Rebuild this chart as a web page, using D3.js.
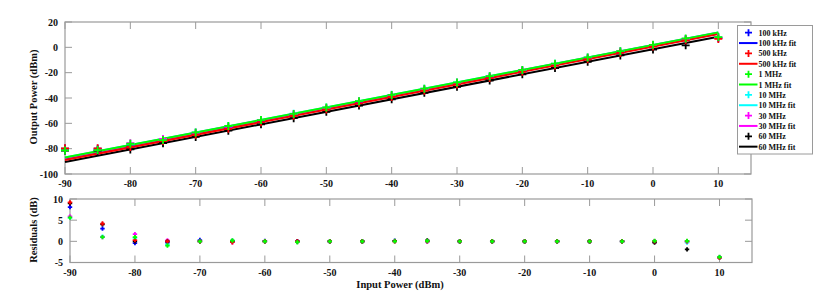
<!DOCTYPE html>
<html><head><meta charset="utf-8">
<script src="https://cdn.jsdelivr.net/npm/d3@7"></script>
<style>
body{margin:0;background:#fff;}
svg text{font-family:"Liberation Serif","Times New Roman",serif;font-weight:bold;fill:#111;}
</style></head>
<body><svg id="c" width="830" height="295"></svg>
<script>
// ---------- data ----------
const inputPower = [-90,-85,-80,-75,-70,-65,-60,-55,-50,-45,-40,-35,-30,-25,-20,-15,-10,-5,0,5,10];
const seriesNames = ["100 kHz","500 kHz","1 MHz","10 MHz","30 MHz","60 MHz"];
const seriesColors = ["#0000ff","#ff0000","#00ff00","#00ffff","#ff00ff","#000000"];
// measured output power (dBm)
const out100k = [-79.9,-80.0,-78.5,-73.5,-67.9,-63.2,-58.2,-53.4,-48.4,-43.5,-38.4,-33.6,-28.6,-23.7,-18.7,-13.8,-8.8,-3.9,1.0,6.1,7.2];
const out500k = [-79.7,-79.7,-78.7,-74.0,-69.0,-64.3,-59.1,-54.1,-49.1,-44.2,-39.2,-34.2,-29.3,-24.3,-19.3,-14.4,-9.4,-4.4,0.6,5.5,6.6];
const out1M   = [-81.4,-81.1,-76.1,-73.2,-67.2,-62.1,-57.4,-52.6,-47.5,-42.5,-37.6,-32.6,-27.7,-22.8,-17.8,-12.9,-8.0,-3.0,2.0,7.0,8.1];
const out10M  = [-81.4,-81.0,-76.3,-73.0,-67.2,-62.2,-57.4,-52.4,-47.5,-42.5,-37.5,-32.7,-27.7,-22.8,-17.8,-12.9,-8.0,-3.0,1.9,6.6,7.9];
const out30M  = [-81.4,-81.4,-75.7,-72.3,-67.5,-62.8,-57.7,-52.7,-47.8,-42.8,-37.9,-33.0,-28.0,-23.1,-18.1,-13.2,-8.3,-3.3,1.6,6.6,7.7];
const out60M  = [-81.5,-81.6,-80.6,-75.7,-70.7,-65.8,-60.8,-55.9,-50.9,-46.0,-41.0,-35.9,-31.2,-26.2,-21.3,-16.3,-11.4,-6.4,-1.8,1.6];
// linear fit end points (at -90 and 10 dBm input)
const fitX = [-90, 10];
const fit100k = [-88.0, 11.0];
const fit500k = [-88.9, 10.5];
const fit1M   = [-87.0, 11.8];
const fit10M  = [-87.0, 11.8];
const fit30M  = [-87.3, 11.5];
const fit60M  = [-90.5, 8.4];
// residuals (dB)
const res100k = [8.1,3.0,-0.4,-0.3,0.3,0.1,0.1,0.0,0.0,0.0,0.1,0.0,0.0,0.0,0.0,0.0,0.0,0.0,-0.1,0.0,-3.8];
const res500k = [9.2,4.2,0.3,0.0,0.0,-0.2,0.0,0.0,0.0,0.0,0.0,0.0,0.0,0.0,0.0,0.0,0.0,0.0,0.0,0.0,-3.9];
const res1M   = [5.6,1.0,1.0,-1.0,0.0,0.2,0.0,-0.2,0.0,0.0,0.0,0.1,0.0,0.0,0.0,0.0,0.0,0.0,0.1,0.1,-3.7];
const res10M  = [5.6,1.1,0.8,-0.8,0.0,0.1,0.0,0.0,0.0,0.0,0.1,0.0,0.0,0.0,0.0,0.0,0.0,0.0,0.0,-0.3,-3.9];
const res30M  = [5.9,1.0,1.7,0.2,0.0,-0.2,0.0,0.0,0.0,0.0,0.0,0.0,0.0,0.0,0.0,0.0,0.0,0.0,0.0,0.0,-3.8];
const res60M  = [9.0,4.0,0.0,0.0,0.0,0.0,0.0,0.0,0.0,0.0,0.1,0.2,0.0,0.0,0.0,0.0,0.0,0.0,-0.3,-1.9];
const xTicks = [-90,-80,-70,-60,-50,-40,-30,-20,-10,0,10];
const yTicksTop = [20,0,-20,-40,-60,-80,-100];
const yTicksBot = [10,5,0,-5];

const outs = [out100k,out500k,out1M,out10M,out30M,out60M];
const fits = [fit100k,fit500k,fit1M,fit10M,fit30M,fit60M];
const ress = [res100k,res500k,res1M,res10M,res30M,res60M];
const drawOrder = [0,3,4,5,1,2];

const svg = d3.select("#c");
const axisColor = "#9a9a9a";
const tickLen = 7;

function panel(x0,x1,y0,y1,yDom,yTicks){
  const x = d3.scaleLinear().domain([-90,15]).range([x0,x1]);
  const y = d3.scaleLinear().domain(yDom).range([y1,y0]);
  const g = svg.append("g");
  g.append("rect").attr("x",x0).attr("y",y0).attr("width",x1-x0).attr("height",y1-y0)
    .attr("fill","none").attr("stroke",axisColor).attr("stroke-width",1.2);
  const ax = g.append("g");
  xTicks.forEach(t=>{
    ax.append("line").attr("x1",x(t)).attr("x2",x(t)).attr("y1",y1).attr("y2",y1-tickLen).attr("stroke",axisColor);
    ax.append("line").attr("x1",x(t)).attr("x2",x(t)).attr("y1",y0).attr("y2",y0+tickLen).attr("stroke",axisColor);
  });
  yTicks.forEach(t=>{
    ax.append("line").attr("x1",x0).attr("x2",x0+tickLen).attr("y1",y(t)).attr("y2",y(t)).attr("stroke",axisColor);
    ax.append("line").attr("x1",x1).attr("x2",x1-tickLen).attr("y1",y(t)).attr("y2",y(t)).attr("stroke",axisColor);
  });
  ax.selectAll("text.xt").data(xTicks).join("text").attr("class","xt")
    .attr("x",d=>x(d)).attr("y",y1+13).attr("text-anchor","middle").attr("font-size",10).text(d=>d);
  ax.selectAll("text.yt").data(yTicks).join("text").attr("class","yt")
    .attr("x",x0-7).attr("y",d=>y(d)+3.5).attr("text-anchor","end").attr("font-size",10).text(d=>d);
  return {x,y,g};
}

function plusPath(cx,cy,s){return `M${cx-s},${cy}H${cx+s}M${cx},${cy-s}V${cy+s}`;}

// top panel
const topP = panel(65,751,22,174,[-100,20],yTicksTop);
const line = d3.line().x(d=>topP.x(d[0])).y(d=>topP.y(d[1]));
drawOrder.forEach(i=>{
  topP.g.append("path").attr("d",line(fitX.map((v,j)=>[v,fits[i][j]])))
    .attr("stroke",seriesColors[i]).attr("stroke-width",2).attr("fill","none");
});
drawOrder.forEach(i=>{
  topP.g.append("g").selectAll("path").data(outs[i]).join("path")
    .attr("d",(d,j)=>plusPath(topP.x(inputPower[j]),topP.y(d),4))
    .attr("stroke",seriesColors[i]).attr("stroke-width",1.8).attr("fill","none");
});
topP.g.append("text").attr("transform","translate(37,97) rotate(-90)").attr("text-anchor","middle")
  .attr("font-size",10.5).text("Output Power (dBm)");

// bottom panel
const botP = panel(70,752,199,262.5,[-5,10],yTicksBot);
drawOrder.forEach(i=>{
  botP.g.append("g").selectAll("path").data(ress[i]).join("path")
    .attr("d",(d,j)=>plusPath(botP.x(inputPower[j]),botP.y(d),2.2))
    .attr("stroke",seriesColors[i]).attr("stroke-width",1.8).attr("fill","none");
});
botP.g.append("text").attr("transform","translate(37,230) rotate(-90)").attr("text-anchor","middle")
  .attr("font-size",10.5).text("Residuals (dB)");
svg.append("text").attr("x",400).attr("y",288).attr("text-anchor","middle").attr("font-size",10.5).text("Input Power (dBm)");

// legend
const lg = svg.append("g");
lg.append("rect").attr("x",737.5).attr("y",25.5).attr("width",75).attr("height",128.5)
  .attr("fill","#fff").attr("stroke",axisColor).attr("stroke-width",1);
seriesNames.forEach((n,i)=>{
  const yA = 32.7 + (2*i)*10.36, yB = yA + 10.36;
  lg.append("path").attr("d",plusPath(748.5,yA,3.5)).attr("stroke",seriesColors[i]).attr("stroke-width",1.8);
  lg.append("text").attr("x",758.5).attr("y",yA+3).attr("font-size",8).text(n);
  lg.append("line").attr("x1",739).attr("x2",757.5).attr("y1",yB).attr("y2",yB).attr("stroke",seriesColors[i]).attr("stroke-width",2);
  lg.append("text").attr("x",758.5).attr("y",yB+3).attr("font-size",8).text(n+" fit");
});
</script></body></html>
